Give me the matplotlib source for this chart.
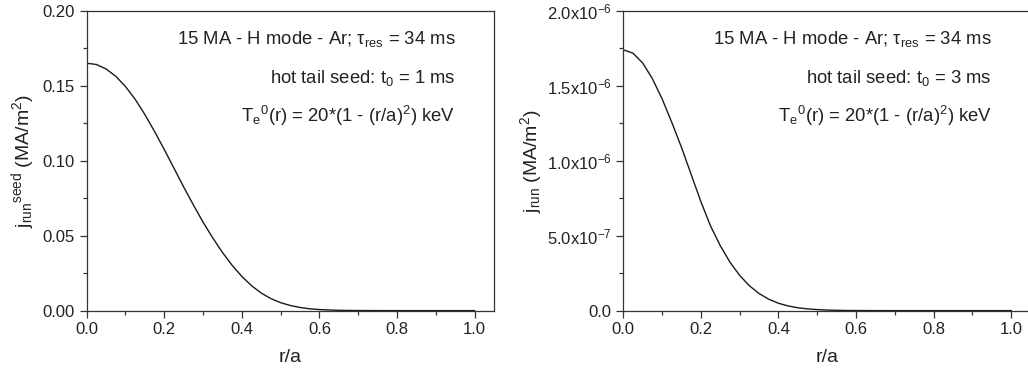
import numpy as np
import matplotlib
matplotlib.use("Agg")
import matplotlib.pyplot as plt
from matplotlib.ticker import MultipleLocator, FuncFormatter

plt.rcParams["font.family"] = ["Liberation Sans", "DejaVu Sans"]
plt.rcParams["mathtext.fontset"] = "custom"
plt.rcParams["mathtext.rm"] = "Liberation Sans"
plt.rcParams["mathtext.it"] = "Liberation Sans"
plt.rcParams["mathtext.bf"] = "Liberation Sans:bold"

# values
r_a = [0.0, 0.025, 0.05, 0.075, 0.1, 0.125, 0.15, 0.175, 0.2, 0.225, 0.25,
       0.275, 0.3, 0.325, 0.35, 0.375, 0.4, 0.425, 0.45, 0.475, 0.5, 0.525,
       0.55, 0.575, 0.6, 0.65, 0.7, 0.8, 0.9, 1.0]
j_seed_1ms = [0.165, 0.1642, 0.1612, 0.1563, 0.1495, 0.141, 0.1308, 0.1195,
              0.1075, 0.095, 0.0825, 0.0705, 0.059, 0.0485, 0.0388, 0.0302,
              0.0228, 0.0166, 0.0117, 0.008, 0.0053, 0.0034, 0.0021, 0.0012,
              0.0007, 0.0002, 0.00005, 0.0, 0.0, 0.0]
j_seed_3ms = [1.74e-6, 1.717e-6, 1.652e-6, 1.547e-6, 1.413e-6, 1.256e-6,
              1.089e-6, 0.908e-6, 0.727e-6, 0.564e-6, 0.433e-6, 0.323e-6,
              0.235e-6, 0.166e-6, 0.114e-6, 0.076e-6, 0.049e-6, 0.031e-6,
              0.019e-6, 0.0115e-6, 0.0068e-6, 0.0038e-6, 0.002e-6, 0.001e-6,
              0.0005e-6, 0.0001e-6, 0.0, 0.0, 0.0, 0.0]

notes_1 = [r"15 MA - H mode - Ar; $\mathregular{\tau_{res}}$ = 34 ms",
           r"hot tail seed: $\mathregular{t_0}$ = 1 ms",
           r"$\mathregular{T_e{}^0}$(r) = 20*(1 - (r/a)$\mathregular{^2}$) keV"]
notes_3 = [r"15 MA - H mode - Ar; $\mathregular{\tau_{res}}$ = 34 ms",
           r"hot tail seed: $\mathregular{t_0}$ = 3 ms",
           r"$\mathregular{T_e{}^0}$(r) = 20*(1 - (r/a)$\mathregular{^2}$) keV"]

fig = plt.figure(figsize=(10.28, 3.72), dpi=100)
ax1 = fig.add_axes([0.0843, 0.165, 0.3963, 0.806])
ax2 = fig.add_axes([0.6063, 0.165, 0.3963, 0.806])

spine_col = "#333333"


def style(ax):
    ax.set_xlim(0, 1.05)
    ax.xaxis.set_major_locator(MultipleLocator(0.2))
    ax.xaxis.set_minor_locator(MultipleLocator(0.1))
    ax.xaxis.set_major_formatter(FuncFormatter(lambda v, p: f"{v:.1f}"))
    ax.tick_params(which="both", direction="out", colors=spine_col,
                   labelcolor="#222222", labelsize=12, width=0.9)
    ax.tick_params(which="major", length=5)
    ax.tick_params(which="minor", length=3)
    for s in ax.spines.values():
        s.set_color(spine_col)
        s.set_linewidth(0.9)
    ax.set_xlabel("r/a", fontsize=14, labelpad=8, color="#222222")


ax1.plot(r_a, j_seed_1ms, color="#1a1a1a", lw=1.0)
style(ax1)
ax1.set_ylim(0, 0.20)
ax1.yaxis.set_major_locator(MultipleLocator(0.05))
ax1.yaxis.set_minor_locator(MultipleLocator(0.025))
ax1.yaxis.set_major_formatter(FuncFormatter(lambda v, p: f"{v:.2f}"))
ax1.set_ylabel(r"$\mathregular{j_{run}{}^{seed}}$ (MA/m$\mathregular{^2}$)",
               fontsize=14, labelpad=4, color="#222222")

ax2.plot(r_a, j_seed_3ms, color="#1a1a1a", lw=1.0)
style(ax2)
ax2.set_ylim(0, 2.0e-6)
ax2.yaxis.set_major_locator(MultipleLocator(0.5e-6))
ax2.yaxis.set_minor_locator(MultipleLocator(0.25e-6))


def sci(v, p):
    if abs(v) < 1e-12:
        return "0.0"
    e = int(np.floor(np.log10(abs(v)) + 1e-9))
    m = v / 10 ** e
    return r"$\mathregular{%.1fx10^{%d}}$" % (m, e)


ax2.yaxis.set_major_formatter(FuncFormatter(sci))
ax2.set_ylabel(r"$\mathregular{j_{run}}$ (MA/m$\mathregular{^2}$)",
               fontsize=14, labelpad=2, color="#222222")

for ax, notes in ((ax1, notes_1), (ax2, notes_3)):
    for i, t in enumerate(notes):
        ax.text(0.905, 0.905 - i * 0.128, t, transform=ax.transAxes,
                ha="right", va="center", fontsize=13.3, color="#222222")

fig.savefig("out.png", dpi=100, facecolor="white")
